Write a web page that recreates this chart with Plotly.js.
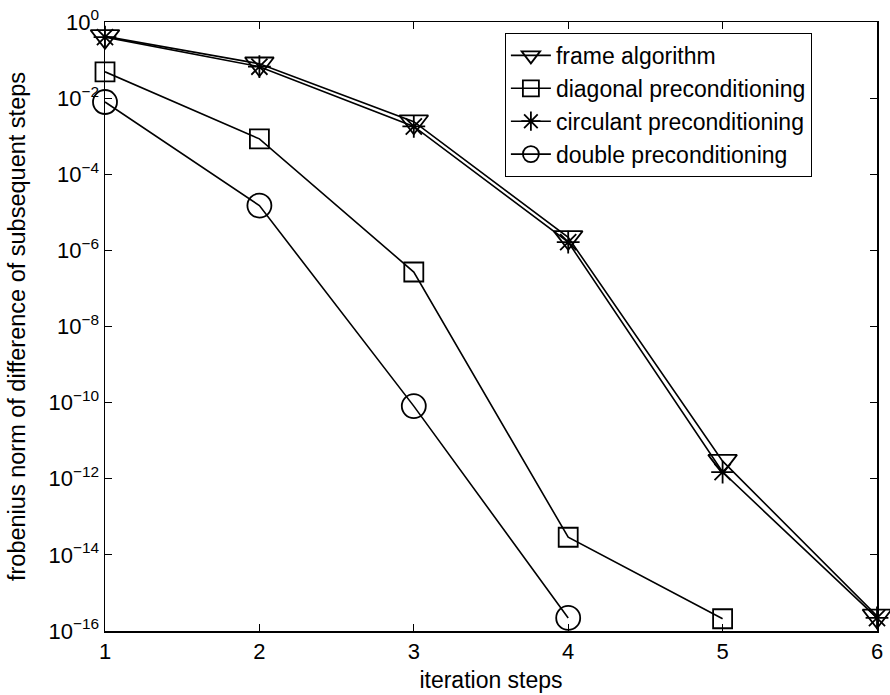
<!DOCTYPE html>
<html>
<head>
<meta charset="utf-8">
<script src="https://cdn.plot.ly/plotly-3.0.1.min.js"></script>
<style>html,body{margin:0;padding:0;background:#fff;}#chart{width:890px;height:695px;}</style>
</head>
<body>
<div id="chart"></div>
<script>
var steps = [1, 2, 3, 4, 5, 6];
var frameAlgorithm = [0.42, 0.08, 2.4e-3, 2.2e-6, 2.9e-12, 2.5e-16];
var diagonalPrecond = [0.049, 8.5e-4, 2.7e-7, 2.9e-14, 2.1e-16];
var circulantPrecond = [0.40, 0.067, 1.8e-3, 1.65e-6, 1.5e-12, 2.2e-16];
var doublePrecond = [7.9e-3, 1.5e-5, 8.1e-11, 2.2e-16];
var seriesNames = ['frame algorithm', 'diagonal preconditioning', 'circulant preconditioning', 'double preconditioning'];
var yTickVals = [1, 1e-2, 1e-4, 1e-6, 1e-8, 1e-10, 1e-12, 1e-14, 1e-16];
var yTickText = ['10<sup>0</sup>', '10<sup>\u22122</sup>', '10<sup>\u22124</sup>', '10<sup>\u22126</sup>', '10<sup>\u22128</sup>', '10<sup>\u221210</sup>', '10<sup>\u221212</sup>', '10<sup>\u221214</sup>', '10<sup>\u221216</sup>'];

var F = 'Liberation Sans, Arial, Helvetica, sans-serif';
function tr(y, name, sym, size) {
  return {
    x: steps.slice(0, y.length), y: y, name: name, type: 'scatter', mode: 'lines+markers',
    line: {color: '#000', width: 1.6},
    marker: {symbol: sym, size: size, color: '#000', line: {color: '#000', width: 1.8}},
    cliponaxis: false
  };
}
var data = [
  tr(frameAlgorithm, seriesNames[0], 'triangle-down-open', 25),
  tr(diagonalPrecond, seriesNames[1], 'square-open', 19),
  tr(circulantPrecond, seriesNames[2], 'asterisk-open', 19),
  tr(doublePrecond, seriesNames[3], 'circle-open', 24)
];
var layout = {
  width: 890, height: 695,
  margin: {l: 105, r: 13, t: 22, b: 64},
  paper_bgcolor: '#fff', plot_bgcolor: '#fff',
  font: {family: F, size: 22, color: '#000'},
  showlegend: true,
  legend: {x: 0.518, y: 0.982, xanchor: 'left', yanchor: 'top', bgcolor: '#fff',
           bordercolor: '#000', borderwidth: 1, font: {family: F, size: 23, color: '#000'},
           itemwidth: 40, tracegroupgap: 0},
  xaxis: {
    range: [1, 6], tickvals: steps, ticktext: steps.map(String),
    ticks: 'inside', ticklen: 7, tickwidth: 1, tickcolor: '#000',
    showline: true, linecolor: '#000', linewidth: 1.5, mirror: 'ticks',
    showgrid: false, zeroline: false,
    tickfont: {family: F, size: 22},
    title: {text: 'iteration steps', font: {family: F, size: 23}, standoff: 9}
  },
  yaxis: {
    type: 'log', range: [-16, 0], tickvals: yTickVals, ticktext: yTickText,
    ticks: 'inside', ticklen: 7, tickwidth: 1, tickcolor: '#000',
    showline: true, linecolor: '#000', linewidth: 1.5, mirror: 'ticks',
    showgrid: false, zeroline: false,
    tickfont: {family: F, size: 22},
    title: {text: 'frobenius norm of difference of subsequent steps', font: {family: F, size: 23.5}, standoff: 16}
  }
};
Plotly.newPlot('chart', data, layout, {displayModeBar: false, staticPlot: true});
</script>
</body>
</html>
